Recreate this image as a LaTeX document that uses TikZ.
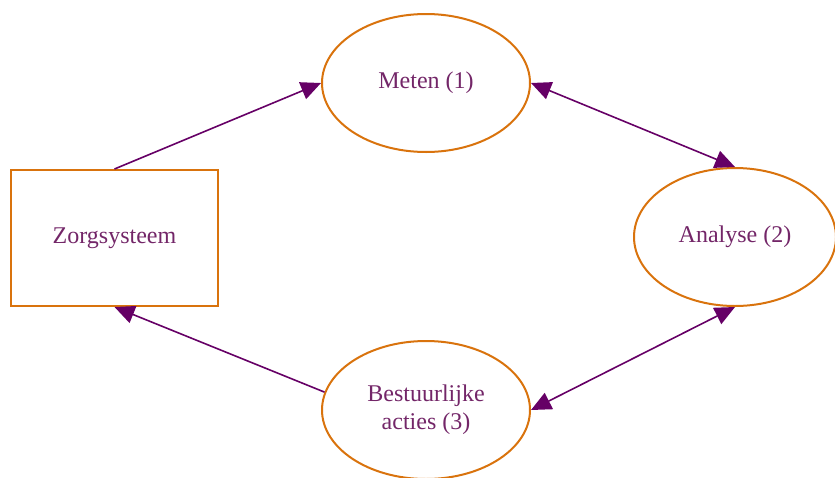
\documentclass[tikz,border=0pt]{standalone}
\usepackage{fontspec}
\setmainfont{Liberation Serif}
\usepackage{xcolor}
\usetikzlibrary{shapes.geometric,arrows.meta}

\begin{document}
\begin{tikzpicture}[x=0.5pt,y=-0.5pt,
  blok/.style={draw=colRand, line width=1pt, text=colTesto, font=\fontsize{12}{14}\selectfont, align=center},
  ovale/.style={blok, ellipse, inner sep=0pt},
  freccia/.style={draw=colFreccia, line width=0.8pt, -{Triangle[length=10pt,width=9pt]}},
  doppia/.style={freccia, {Triangle[length=10pt,width=9pt]}-{Triangle[length=10pt,width=9pt]}}]

% Colori
\definecolor{colRand}{HTML}{D9730D}
\definecolor{colFreccia}{HTML}{660066}
\definecolor{colTesto}{HTML}{732668}

% Area
\useasboundingbox (0,0) rectangle (835,477);

% Blokken
\node[blok, rectangle, minimum width=103.5pt, minimum height=68pt] (zorg) at (114.5,238) {Zorgsysteem};
\node[ovale, minimum width=104pt, minimum height=69pt] (meten) at (426,83) {Meten (1)};
\node[ovale, minimum width=101pt, minimum height=69pt] (analyse) at (735,237) {Analyse (2)};
\node[ovale, minimum width=104pt, minimum height=69pt] (acties) at (426,410) {Bestuurlijke\\acties (3)};

% Pijlen
\draw[freccia] (zorg.north) -- (meten.west);
\draw[doppia] (meten.east) -- (analyse.north);
\draw[doppia] (analyse.south) -- (acties.east);
\draw[freccia] (acties.170) -- (zorg.south);

\end{tikzpicture}
\end{document}
